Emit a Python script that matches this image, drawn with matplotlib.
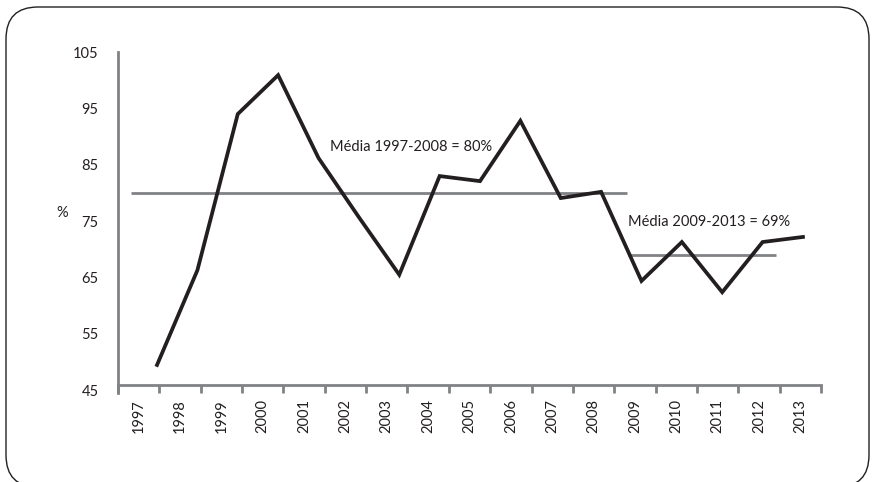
import numpy as np
import matplotlib
matplotlib.use("Agg")
import matplotlib.pyplot as plt
from matplotlib.patches import FancyBboxPatch

plt.rcParams['font.family'] = ['Lato', 'DejaVu Sans']

# Data
years = ['1997', '1998', '1999', '2000', '2001', '2002', '2003', '2004', '2005',
         '2006', '2007', '2008', '2009', '2010', '2011', '2012', '2013']
values = [49.5, 66.3, 94.0, 100.9, 86.2, 75.7, 65.5, 83.0, 82.1,
          92.8, 79.1, 80.2, 64.4, 71.3, 62.4, 71.3, 72.2]
mean_1997_2008 = 80
mean_2009_2013 = 69
y_ticks = [45, 55, 65, 75, 85, 95, 105]

LINE = '#231f20'
GREY = '#808285'
FS = 10.5

fig = plt.figure(figsize=(8.73, 4.82), dpi=100)
ax = fig.add_axes([0.1352, 0.1902, 0.8052, 0.7019])

x = np.arange(len(years))
x0, x1 = -0.966, 16.446
ax.set_xlim(x0, x1)
ax.set_ylim(45, 105)

# average lines
ax.plot([-0.644, 11.641], [mean_1997_2008] * 2, color=GREY, lw=2.0,
        solid_capstyle='butt', zorder=2)
ax.plot([11.666, 15.331], [mean_2009_2013] * 2, color=GREY, lw=2.0,
        solid_capstyle='butt', zorder=2)

# main series
ax.plot(x, values, color=LINE, lw=2.7, solid_joinstyle='miter', zorder=3)

ax.text(4.285, 88.2, f'Média 1997-2008 = {mean_1997_2008}%', fontsize=FS,
        color=LINE, ha='left', va='center')
ax.text(11.666, 74.85, f'Média 2009-2013 = {mean_2009_2013}%', fontsize=FS,
        color=LINE, ha='left', va='center')

# category axis: ticks at boundaries, labels centred in each slot
bounds = np.linspace(x0, x1, len(years) + 1)
centers = (bounds[:-1] + bounds[1:]) / 2
ax.set_xticks(bounds)
ax.set_xticks(centers, minor=True)
ax.xaxis.set_major_formatter(plt.NullFormatter())
ax.xaxis.set_minor_formatter(plt.FixedFormatter(years))
ax.tick_params(axis='x', which='major', direction='out', length=6,
               width=2, color=GREY)
ax.tick_params(axis='x', which='minor', length=0, pad=10,
               labelrotation=90, labelsize=FS, labelcolor=LINE)

ax.set_yticks(y_ticks)
ax.set_yticklabels([str(v) for v in y_ticks])
ax.tick_params(axis='y', length=0, pad=14, labelsize=FS, labelcolor=LINE)

for s in ['top', 'right']:
    ax.spines[s].set_visible(False)
ax.spines['left'].set_color(GREY)
ax.spines['left'].set_linewidth(2)
ax.spines['bottom'].set_color(GREY)
ax.spines['bottom'].set_linewidth(2)
ax.spines['bottom'].set_position(('data', 45.93))
ax.spines['left'].set_bounds(44.5, 105)

fig.text(0.071, 0.558, '%', fontsize=FS, color=LINE, ha='center', va='center')

# rounded frame
frame = FancyBboxPatch((0.06, -0.05), 8.63, 4.80,
                       boxstyle='round,pad=0,rounding_size=0.32',
                       transform=fig.dpi_scale_trans, fill=False,
                       edgecolor=LINE, lw=1.0)
fig.patches.append(frame)

fig.savefig('out.png', dpi=100)
